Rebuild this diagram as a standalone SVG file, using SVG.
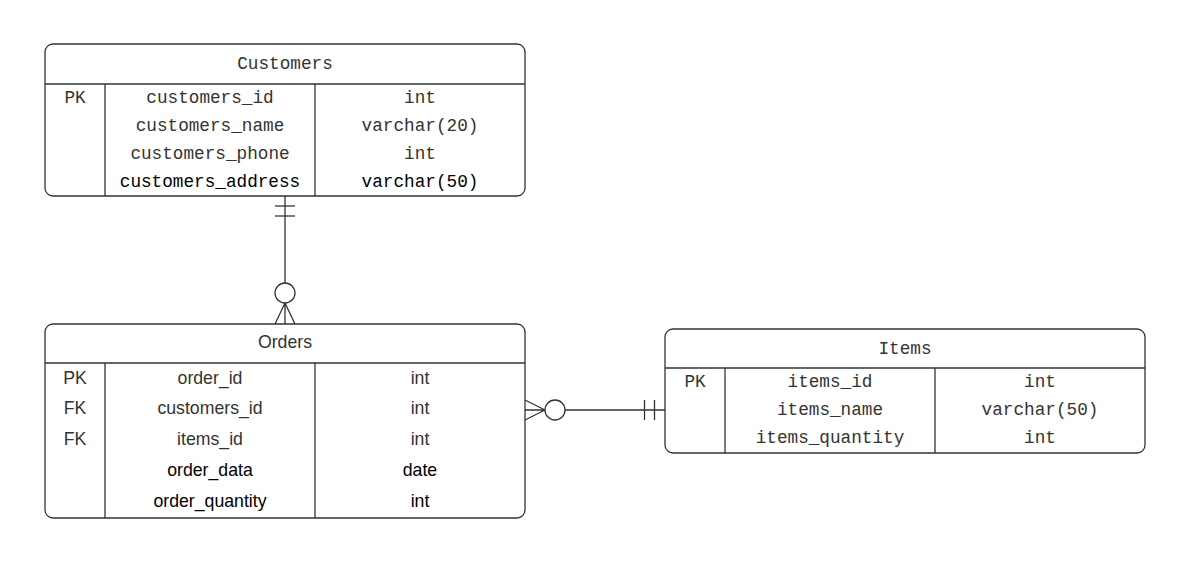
<svg xmlns="http://www.w3.org/2000/svg" width="1180" height="573" viewBox="0 0 1180 573">
<style>
.box{fill:#fff;stroke:#333;stroke-width:1.3}
.ln{stroke:#333;stroke-width:1.3;fill:none}
.m{font-family:"Liberation Mono",monospace;font-size:17.7px;fill:#333;text-anchor:middle;dominant-baseline:central}
.s{font-family:"Liberation Sans",Arial,sans-serif;font-size:17.7px;fill:#333;text-anchor:middle;dominant-baseline:central}
.k{fill:#000}
</style>
<rect width="1180" height="573" fill="#fff"/>
<g id="connectors">
<line class="ln" x1="285" y1="196" x2="285" y2="283"/>
<line class="ln" x1="275" y1="206" x2="295" y2="206"/>
<line class="ln" x1="275" y1="216" x2="295" y2="216"/>
<circle class="ln" cx="285" cy="293" r="10"/>
<path class="ln" d="M285 303V324M285 303L275 324M285 303L295 324"/>
<path class="ln" d="M525 410H545M545 410L525 400M545 410L525 420"/>
<circle class="ln" cx="555" cy="410" r="10"/>
<line class="ln" x1="565" y1="410" x2="665" y2="410"/>
<line class="ln" x1="644.5" y1="400" x2="644.5" y2="420"/>
<line class="ln" x1="654.5" y1="400" x2="654.5" y2="420"/>
</g>
<g id="customers">
<rect class="box" x="45" y="44" width="480" height="152" rx="8"/>
<line class="ln" x1="45" y1="84" x2="525" y2="84"/>
<line class="ln" x1="105" y1="84" x2="105" y2="196"/>
<line class="ln" x1="315" y1="84" x2="315" y2="196"/>
<text class="m" x="285" y="64">Customers</text>
<text class="m" x="75" y="98">PK</text>
<text class="m" x="210" y="98">customers_id</text>
<text class="m" x="420" y="98">int</text>
<text class="m" x="210" y="126">customers_name</text>
<text class="m" x="420" y="126">varchar(20)</text>
<text class="m" x="210" y="154">customers_phone</text>
<text class="m" x="420" y="154">int</text>
<text class="m k" x="210" y="182">customers_address</text>
<text class="m k" x="420" y="182">varchar(50)</text>
</g>
<g id="orders">
<rect class="box" x="45" y="324" width="480" height="194" rx="8"/>
<line class="ln" x1="45" y1="363" x2="525" y2="363"/>
<line class="ln" x1="105" y1="363" x2="105" y2="518"/>
<line class="ln" x1="315" y1="363" x2="315" y2="518"/>
<text class="s" x="285" y="342">Orders</text>
<text class="s" x="75" y="378">PK</text>
<text class="s" x="210" y="378">order_id</text>
<text class="s" x="420" y="378">int</text>
<text class="s" x="75" y="408">FK</text>
<text class="s" x="210" y="408">customers_id</text>
<text class="s" x="420" y="408">int</text>
<text class="s" x="75" y="439">FK</text>
<text class="s" x="210" y="439">items_id</text>
<text class="s" x="420" y="439">int</text>
<text class="s k" x="210" y="470">order_data</text>
<text class="s k" x="420" y="470">date</text>
<text class="s k" x="210" y="501">order_quantity</text>
<text class="s k" x="420" y="501">int</text>
</g>
<g id="items">
<rect class="box" x="665" y="329" width="480" height="124" rx="8"/>
<line class="ln" x1="665" y1="368" x2="1145" y2="368"/>
<line class="ln" x1="725" y1="368" x2="725" y2="453"/>
<line class="ln" x1="935" y1="368" x2="935" y2="453"/>
<text class="m" x="905" y="349">Items</text>
<text class="m" x="695" y="382">PK</text>
<text class="m" x="830" y="382">items_id</text>
<text class="m" x="1040" y="382">int</text>
<text class="m" x="830" y="410">items_name</text>
<text class="m" x="1040" y="410">varchar(50)</text>
<text class="m" x="830" y="438">items_quantity</text>
<text class="m" x="1040" y="438">int</text>
</g>
</svg>
